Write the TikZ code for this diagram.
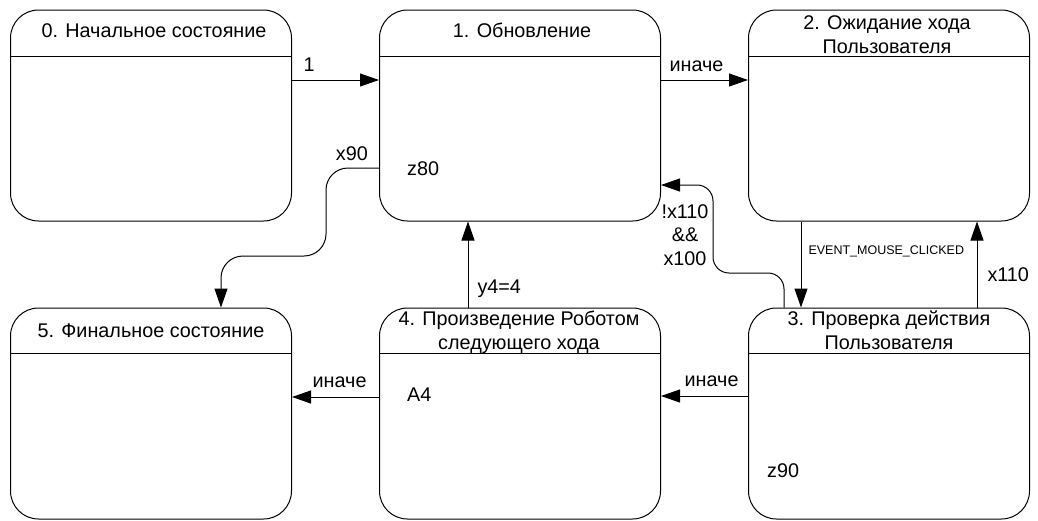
\documentclass[tikz,border=0pt]{standalone}
\usepackage{fontspec}
\setmainfont{Liberation Sans}
\usetikzlibrary{arrows.meta,calc}
\begin{document}
\begin{tikzpicture}[x=1pt,y=-1pt,
  statebox/.style={draw,line width=1pt,rounded corners=28pt,minimum width=281pt,minimum height=211pt,inner sep=0pt},
  lbl/.style={font=\fontsize{19.8}{23.5}\selectfont,inner sep=0pt},
  smalllbl/.style={font=\fontsize{12.5}{14}\selectfont,inner sep=0pt},
  arr/.style={line width=1pt,-{Triangle[length=19pt,width=13pt]}},
  divider/.style={line width=1pt}]
\useasboundingbox (0,0) rectangle (1038,520);

% states
\node[statebox] (b0) at (151,115.5) {};
\node[statebox] (b1) at (520,115.5) {};
\node[statebox] (b2) at (889,115.5) {};
\node[statebox] (b5) at (151,413.5) {};
\node[statebox] (b4) at (520,413.5) {};
\node[statebox] (b3) at (889,413.5) {};

% dividers
\draw[divider] (b0.west |- 0,56) -- (b0.east |- 0,56);
\draw[divider] (b1.west |- 0,56) -- (b1.east |- 0,56);
\draw[divider] (b2.west |- 0,56) -- (b2.east |- 0,56);
\draw[divider] (b5.west |- 0,353) -- (b5.east |- 0,353);
\draw[divider] (b4.west |- 0,353) -- (b4.east |- 0,353);
\draw[divider] (b3.west |- 0,353) -- (b3.east |- 0,353);

% titles
\node[lbl,anchor=base] (t0) at (154,37) {0. Начальное состояние};
\node[lbl,anchor=base] (t1) at (522,37) {1. Обновление};
\node[lbl,anchor=base,align=center] (t2) at (887,53) {2. Ожидание хода\\Пользователя};
\node[lbl,anchor=base] (t5) at (151,337) {5. Финальное состояние};
\node[lbl,anchor=base,align=center] (t4) at (519,349) {4. Произведение Роботом\\следующего хода};
\node[lbl,anchor=base,align=center] (t3) at (889,349) {3. Проверка действия\\Пользователя};

% body texts
\node[lbl,anchor=base west] (z80) at (407,175) {z80};
\node[lbl,anchor=base west] (a4) at (407,401) {A4};
\node[lbl,anchor=base west] (z90) at (767,477) {z90};

% transitions
\draw[arr] (b0.east |- 0,80) -- (b1.west |- 0,80)
  node[lbl,pos=0,anchor=base west,xshift=11pt,yshift=9pt] (l01) {1};
\draw[arr] (b1.east |- 0,80) -- (b2.west |- 0,80)
  node[lbl,pos=0,anchor=base west,xshift=8pt,yshift=9pt] (l12) {иначе};
\draw[arr] (b2.south -| 801,0) -- (b3.north -| 801,0)
  node[smalllbl,pos=0,anchor=base west,xshift=7pt,yshift=-33pt] (l23) {EVENT\_MOUSE\_CLICKED};
\draw[arr] (b3.north -| 977,0) -- (b2.south -| 977,0)
  node[lbl,pos=0,anchor=base west,xshift=10pt,yshift=26pt] (l32) {x110};
\draw[arr] (b3.west |- 0,396) -- (b4.east |- 0,396)
  node[lbl,pos=0,anchor=base east,xshift=-9pt,yshift=10pt] (l34) {иначе};
\draw[arr] (b4.west |- 0,397) -- (b5.east |- 0,397)
  node[lbl,pos=0,anchor=base east,xshift=-12pt,yshift=10pt] (l45) {иначе};
\draw[arr] (b4.north -| 468,0) -- (b1.south -| 468,0)
  node[lbl,pos=0,anchor=base west,xshift=9pt,yshift=14pt] (l41) {y4=4};
\draw[arr,rounded corners=22pt] (b1.west |- 0,168) -- (326,168) -- (326,256) -- (221,256) -- (b5.north -| 221,0);
\node[lbl,anchor=base east] (l15) at (368,160) {x90};
\draw[arr,rounded corners=16pt] (b3.north -| 784,0) -- (784,273) -- (713,273) -- (713,185) -- (b1.east |- 0,185);
\node[lbl,anchor=base,align=center] (l31) at (685,265) {!x110\\\&\&\\x100};
\end{tikzpicture}
\end{document}
